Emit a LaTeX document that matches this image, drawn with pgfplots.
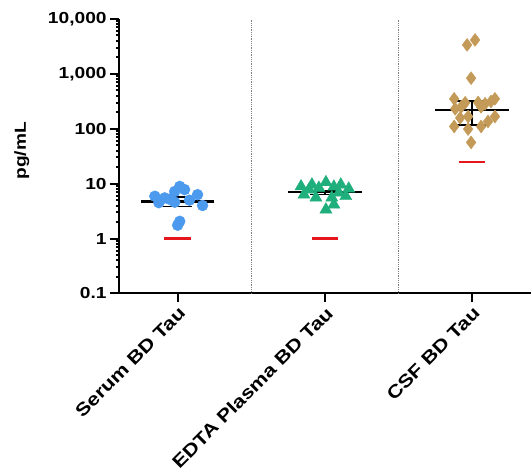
\documentclass[border=0pt]{standalone}
\usepackage{pgfplots}
\pgfplotsset{compat=1.18}
\usepackage{fontspec}
\setmainfont{Liberation Sans}[FakeStretch=1.2]

\definecolor{serumblue}{HTML}{4C9AEE}
\definecolor{plasmagreen}{HTML}{1FAF7C}
\definecolor{csftan}{HTML}{C49A58}
\definecolor{llodred}{HTML}{E5161C}

\begin{document}
\fontsize{16pt}{19pt}\selectfont\bfseries
\begin{tikzpicture}
\begin{axis}[
    scale only axis,
    width=413pt, height=275pt,
    ymode=log,
    xmin=-0.4, xmax=2.4,
    ymin=0.1, ymax=10000,
    axis x line*=bottom,
    axis y line*=left,
    axis line style={line width=2pt},
    tick style={line width=2pt, black},
    major tick length=9pt,
    tick align=outside,
    minor tick num=0,
    ytick={0.1,1,10,100,1000,10000},
    yticklabels={0.1,1,10,100,{1,000},{10,000}},
    xtick={0,1,2},
    xticklabels={Serum BD Tau,EDTA Plasma BD Tau,CSF BD Tau},
    x tick label style={rotate=45, anchor=north east, inner sep=2pt,
        font=\fontsize{18pt}{21pt}\selectfont\bfseries},
    y tick label style={inner sep=3pt},
    ylabel={pg/mL},
    ylabel style={at={(axis description cs:-0.235,0.52)}, anchor=center, rotate=0},
    clip=false,
]

% group separators
\addplot[gray, densely dotted, line width=0.8pt] coordinates {(0.5,0.1) (0.5,10000)};
\addplot[gray, densely dotted, line width=0.8pt] coordinates {(1.5,0.1) (1.5,10000)};

% Serum BD Tau
\addplot[only marks, mark=*, mark size=5.5pt, color=serumblue] coordinates {
    (-0.155,5.9) (-0.128,4.5) (0.014,8.9) (-0.02,7.2) (0.047,7.8)
    (0.135,6.3) (0.169,4.0) (0.014,2.06) (0.0,1.75) (-0.054,5.2)
    (0.08,5.0) (-0.02,4.6) (-0.088,5.5)
};

% EDTA Plasma BD Tau
\addplot[only marks, mark=triangle*, mark size=7pt, color=plasmagreen] coordinates {
    (0.838,8.9) (1.007,10.6) (1.108,9.6) (1.162,8.1) (0.892,7.8)
    (0.959,8.4) (1.061,8.8) (1.142,5.9) (0.858,6.3) (0.939,5.56)
    (1.061,4.15) (1.007,3.37) (1.047,5.56) (1.095,6.85) (0.912,9.6)
};

% CSF BD Tau
\addplot[only marks, mark=diamond*, mark size=6.5pt, color=csftan] coordinates {
    (1.966,3367) (2.02,4150) (1.993,835) (1.878,351) (2.155,351)
    (2.128,314) (1.953,297) (2.041,301) (2.088,285) (1.885,231)
    (1.926,251) (2.061,251) (1.919,158) (1.973,167) (2.155,167)
    (2.108,136) (2.061,110) (1.878,110) (1.973,98.8) (1.993,56.4)
};

% means
\addplot[black, line width=2.5pt] coordinates {(-0.25,4.77) (0.25,4.77)};
\addplot[black, line width=2.5pt] coordinates {(0.75,7.07) (1.25,7.07)};
\addplot[black, line width=2.5pt] coordinates {(1.75,221) (2.25,221)};

% error bars
\addplot[black, line width=1.4pt] coordinates {(0,3.87) (0,5.73)};
\addplot[black, line width=1.4pt] coordinates {(-0.1,5.73) (0.1,5.73)};
\addplot[black, line width=1.4pt] coordinates {(-0.1,3.87) (0.1,3.87)};
\addplot[black, line width=1.4pt] coordinates {(1,6.4) (1,7.6)};
\addplot[black, line width=1.4pt] coordinates {(0.9,7.6) (1.1,7.6)};
\addplot[black, line width=1.4pt] coordinates {(0.9,6.4) (1.1,6.4)};
\addplot[black, line width=1.4pt] coordinates {(2,118) (2,323)};
\addplot[black, line width=1.4pt] coordinates {(1.9,323) (2.1,323)};
\addplot[black, line width=1.4pt] coordinates {(1.9,118) (2.1,118)};

% LLOD lines
\addplot[llodred, line width=2.5pt] coordinates {(-0.09,1) (0.09,1)};
\addplot[llodred, line width=2.5pt] coordinates {(0.91,1) (1.09,1)};
\addplot[llodred, line width=2.5pt] coordinates {(1.91,24.8) (2.09,24.8)};

\end{axis}
\path ([xshift=-119pt,yshift=-180pt]current axis.south west)
      ([yshift=19pt]current axis.north east);
\end{tikzpicture}
\end{document}
